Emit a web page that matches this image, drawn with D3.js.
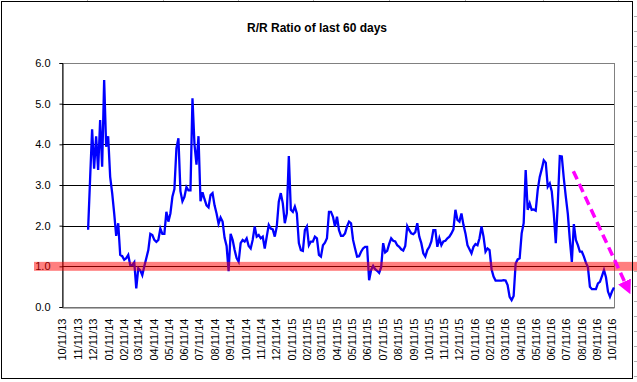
<!DOCTYPE html>
<html><head><meta charset="utf-8">
<script src="https://cdn.jsdelivr.net/npm/d3@7"></script>
<style>
body{margin:0;background:#fff}
svg{display:block}
text{font-family:Arial,"Liberation Sans",sans-serif}
</style>
</head><body>
<svg id="chart" width="637" height="382"></svg>
<script>
// ---------- data ----------
const chartTitle = "R/R Ratio of last 60 days";
const seriesStart = "2013-12-02";   // first observation
const stepDays = 4;                 // spacing between observations (days)
const ratio = [
1.90,3.15,4.37,3.40,4.20,3.37,4.60,3.45,5.58,3.94,
4.20,3.20,2.80,2.30,1.75,2.06,1.28,1.25,1.16,1.20,
1.28,1.03,1.03,1.10,0.46,0.95,0.90,0.78,1.00,1.20,
1.40,1.80,1.77,1.65,1.60,1.65,1.93,1.80,1.80,2.34,
2.10,2.30,2.71,2.90,3.90,4.15,2.85,2.60,2.71,2.95,
2.87,2.87,5.13,4.00,3.50,4.20,2.60,2.82,2.65,2.50,
2.45,2.75,2.80,2.50,2.30,2.05,2.20,2.10,1.70,1.50,
0.88,1.80,1.65,1.40,1.20,1.11,1.57,1.65,1.61,1.69,
1.50,1.44,1.65,1.98,1.73,1.77,1.69,1.73,1.44,1.73,
2.02,1.93,1.91,1.73,1.98,2.59,2.80,2.55,2.06,2.30,
3.71,2.39,2.34,2.47,2.30,1.57,1.40,1.38,1.89,1.98,
1.52,1.61,1.61,1.73,1.69,1.28,1.24,1.52,1.58,1.69,
2.34,2.34,2.22,1.98,2.22,1.89,1.75,1.75,1.81,1.98,
2.10,2.06,1.65,1.44,1.24,1.25,1.36,1.44,1.48,1.48,
0.66,0.91,1.01,0.93,0.89,0.84,0.98,1.57,1.34,1.38,
1.55,1.69,1.63,1.61,1.52,1.48,1.42,1.39,1.50,1.99,
1.89,1.81,1.79,1.84,2.06,1.73,1.57,1.32,1.24,1.40,
1.48,1.61,1.89,1.89,1.48,1.69,1.52,1.61,1.63,1.69,
1.73,1.81,1.91,2.39,2.14,2.10,2.30,2.02,1.81,1.52,
1.42,1.32,1.48,1.55,1.52,1.69,1.98,1.73,1.36,1.44,
1.40,0.93,0.75,0.65,0.65,0.65,0.65,0.66,0.65,0.54,
0.25,0.17,0.27,1.07,1.17,1.20,1.81,2.06,3.37,2.39,
2.55,2.39,2.40,2.37,2.88,3.20,3.39,3.61,3.55,2.96,
3.04,2.84,2.30,1.57,2.55,3.71,3.70,3.16,2.71,2.29,
1.65,1.11,2.04,1.65,1.52,1.36,1.36,1.24,1.09,0.98,
0.50,0.44,0.44,0.44,0.58,0.62,0.76,0.91,0.73,0.38,
0.25,0.38,0.48
];
const yTicks = [0, 1, 2, 3, 4, 5, 6];
const xTickLabels = [
"10/11/13","11/11/13","12/11/13","01/11/14","02/11/14","03/11/14","04/11/14",
"05/11/14","06/11/14","07/11/14","08/11/14","09/11/14","10/11/14","11/11/14",
"12/11/14","01/11/15","02/11/15","03/11/15","04/11/15","05/11/15","06/11/15",
"07/11/15","08/11/15","09/11/15","10/11/15","11/11/15","12/11/15","01/11/16",
"02/11/16","03/11/16","04/11/16","05/11/16","06/11/16","07/11/16","08/11/16",
"09/11/16","10/11/16"
];
const xDomain = ["2013-10-11", "2016-10-15"];
const refLevel = 1.0;          // highlighted threshold
const refHalfWidth = 0.11;     // half-height of the highlight band (value units)
const trendArrow = [["2016-07-26", 3.34], ["2016-11-12", 0.44]];

// ---------- layout ----------
const W = 637, H = 382;
const plot = {left: 62, right: 614, top: 63, bottom: 307};
const svg = d3.select("#chart");

const parseISO = d3.timeParse("%Y-%m-%d");
const parseLbl = d3.timeParse("%m/%d/%y");
const fmtLbl = d3.timeFormat("%m/%d/%y");

const x = d3.scaleTime().domain(xDomain.map(parseISO)).range([plot.left, plot.right]);
const y = d3.scaleLinear().domain([0, 6]).range([plot.bottom, plot.top]);

const start = parseISO(seriesStart);
const data = ratio.map((v, i) => ({date: d3.timeDay.offset(start, i * stepDays), v}));

svg.append("rect").attr("width", W).attr("height", H).attr("fill", "#fff");

// spreadsheet cell marks outside the chart frame
const cellMarks = svg.append("g").attr("stroke", "#b0b0b0").attr("stroke-width", 1);
[87,163,238,313,389,465,543,618].forEach(px => {
  cellMarks.append("line").attr("x1", px + 0.5).attr("x2", px + 0.5).attr("y1", 0).attr("y2", 1);
});
for (let py = 16; py < H; py += 15) {
  cellMarks.append("line").attr("x1", 634).attr("x2", 637).attr("y1", py + 0.5).attr("y2", py + 0.5);
}

// title
svg.append("text").attr("x", 317).attr("y", 32).attr("text-anchor", "middle")
  .attr("font-size", 12).attr("font-weight", "bold").attr("fill", "#000").text(chartTitle);

// plot-area border
svg.append("rect").attr("x", plot.left + 0.5).attr("y", plot.top + 0.5)
  .attr("width", plot.right - plot.left).attr("height", plot.bottom - plot.top)
  .attr("fill", "none").attr("stroke", "#808080");

// gridlines
svg.append("g").selectAll("line").data(yTicks.filter(t => t > 0 && t < 6)).join("line")
  .attr("x1", plot.left).attr("x2", plot.right)
  .attr("y1", d => Math.round(y(d)) + 0.5).attr("y2", d => Math.round(y(d)) + 0.5)
  .attr("stroke", "#000").attr("stroke-width", 1);

// y axis
const yAxis = svg.append("g").attr("transform", `translate(${plot.left + 0.5},0)`)
  .call(d3.axisLeft(y).tickValues(yTicks).tickFormat(d3.format(".1f")).tickSize(3).tickPadding(9));
yAxis.select(".domain").attr("stroke", "#000");
yAxis.selectAll(".tick line").attr("stroke", "#000");
yAxis.selectAll("text").attr("font-size", 11).attr("font-family", "Arial, 'Liberation Sans', sans-serif").attr("fill", "#000");

// x axis
const xAxis = svg.append("g").attr("transform", `translate(0,${plot.bottom + 0.5})`)
  .call(d3.axisBottom(x).tickValues(xTickLabels.map(parseLbl)).tickFormat(fmtLbl).tickSize(0).tickSizeOuter(0));
xAxis.select(".domain").attr("stroke", "#666");
xAxis.selectAll("text")
  .attr("font-size", 11).attr("font-family", "Arial, 'Liberation Sans', sans-serif").attr("fill", "#000")
  .attr("transform", "rotate(-90)").attr("x", -11).attr("y", 0).attr("dy", "0.35em")
  .style("text-anchor", "end");

// data line
svg.append("path").datum(data)
  .attr("fill", "none").attr("stroke", "#0000FF").attr("stroke-width", 2.3)
  .attr("stroke-linejoin", "miter")
  .attr("d", d3.line().x(d => x(d.date)).y(d => y(d.v)));

// threshold highlight band (semi-transparent, drawn on top)
svg.append("rect")
  .attr("x", plot.left - 28).attr("width", W - (plot.left - 28))
  .attr("y", y(refLevel + refHalfWidth)).attr("height", y(refLevel - refHalfWidth) - y(refLevel + refHalfWidth))
  .attr("fill", "rgb(255,0,0)").attr("fill-opacity", 0.5);

// dashed magenta trend arrow
const defs = svg.append("defs");
defs.append("marker").attr("id", "ah").attr("viewBox", "0 0 10 10").attr("refX", 6).attr("refY", 5)
  .attr("markerWidth", 4).attr("markerHeight", 4).attr("orient", "auto")
  .append("path").attr("d", "M0,0 L10,5 L0,10 z").attr("fill", "#FF00FF");
const a0 = trendArrow[0], a1 = trendArrow[1];
svg.append("line")
  .attr("x1", x(parseISO(a0[0]))).attr("y1", y(a0[1]))
  .attr("x2", x(parseISO(a1[0]))).attr("y2", y(a1[1]))
  .attr("stroke", "#FF00FF").attr("stroke-width", 3.5).attr("stroke-dasharray", "9,5")
  .attr("marker-end", "url(#ah)");

// chart frame
svg.append("rect").attr("x", 1.5).attr("y", 1.5).attr("width", 631).attr("height", 377)
  .attr("fill", "none").attr("stroke", "#000").attr("stroke-width", 1);
</script>
</body></html>
